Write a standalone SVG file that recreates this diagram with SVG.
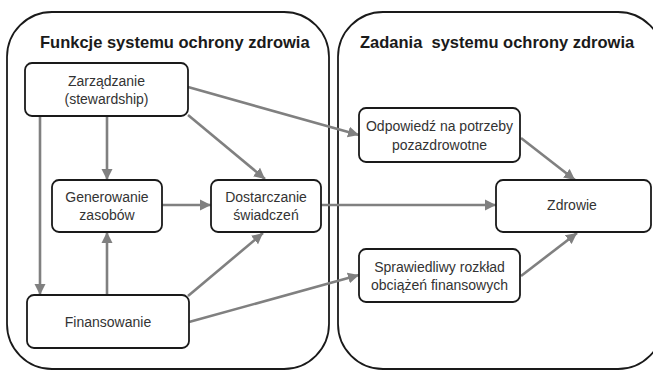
<svg xmlns="http://www.w3.org/2000/svg" width="653" height="372" viewBox="0 0 653 372">
<defs>
<marker id="ah" markerUnits="userSpaceOnUse" markerWidth="12" markerHeight="12" refX="11" refY="6" orient="auto">
<path d="M0,0.5 L11,6 L0,11.5 z" fill="#808080"/>
</marker>
<style>
.cont{fill:none;stroke:#1a1a1a;stroke-width:1.8}
.box{fill:#fff;stroke:#1a1a1a;stroke-width:1.8}
.title{font-family:"Liberation Sans",Arial,sans-serif;font-weight:bold;font-size:16.5px;fill:#1a1a1a}
.lbl{font-family:"Liberation Sans",Arial,sans-serif;font-size:14px;fill:#333;text-anchor:middle}
.con{fill:none;stroke:#808080;stroke-width:2.6;marker-end:url(#ah)}
</style>
</defs>
<rect width="653" height="372" fill="#fff"/>
<g id="left-container">
<rect class="cont" x="7" y="12" width="322" height="357" rx="45" ry="45"/>
<text class="title" x="40" y="48">Funkcje systemu ochrony zdrowia</text>
</g>
<g id="right-container">
<rect class="cont" x="338" y="12" width="325" height="357" rx="45" ry="45"/>
<text class="title" x="360" y="48" xml:space="preserve">Zadania  systemu ochrony zdrowia</text>
</g>
<g id="connectors">
<line class="con" x1="107" y1="116" x2="107" y2="180"/>
<line class="con" x1="40" y1="116" x2="40" y2="295"/>
<line class="con" x1="188" y1="115" x2="265" y2="179"/>
<line class="con" x1="188" y1="87" x2="359" y2="135"/>
<line class="con" x1="162" y1="205" x2="211" y2="205"/>
<line class="con" x1="107" y1="295" x2="107" y2="232"/>
<line class="con" x1="188" y1="296" x2="263" y2="233"/>
<line class="con" x1="189" y1="322" x2="359" y2="275"/>
<line class="con" x1="321" y1="205" x2="496" y2="205"/>
<line class="con" x1="521" y1="138" x2="575" y2="180"/>
<line class="con" x1="521" y1="276" x2="577" y2="233"/>
</g>
<g id="zarzadzanie">
<rect class="box" x="25" y="63" width="163" height="53" rx="7"/>
<text class="lbl" x="106.5" y="86">Zarządzanie</text>
<text class="lbl" x="106.5" y="104">(stewardship)</text>
</g>
<g id="generowanie">
<rect class="box" x="52" y="180" width="110" height="52" rx="7"/>
<text class="lbl" x="107" y="202">Generowanie</text>
<text class="lbl" x="107" y="220">zasobów</text>
</g>
<g id="dostarczanie">
<rect class="box" x="211" y="180" width="110" height="52" rx="7"/>
<text class="lbl" x="266" y="202">Dostarczanie</text>
<text class="lbl" x="266" y="220">świadczeń</text>
</g>
<g id="finansowanie">
<rect class="box" x="27" y="295" width="162" height="53" rx="7"/>
<text class="lbl" x="108" y="327">Finansowanie</text>
</g>
<g id="odpowiedz">
<rect class="box" x="359" y="108" width="161" height="54" rx="7"/>
<text class="lbl" x="439.5" y="131">Odpowiedź na potrzeby</text>
<text class="lbl" x="439.5" y="150">pozazdrowotne</text>
</g>
<g id="zdrowie">
<rect class="box" x="496" y="180" width="155" height="52" rx="7"/>
<text class="lbl" x="572" y="210">Zdrowie</text>
</g>
<g id="sprawiedliwy">
<rect class="box" x="359" y="249" width="161" height="53" rx="7"/>
<text class="lbl" x="439.5" y="272">Sprawiedliwy rozkład</text>
<text class="lbl" x="439.5" y="290">obciążeń finansowych</text>
</g>
</svg>
